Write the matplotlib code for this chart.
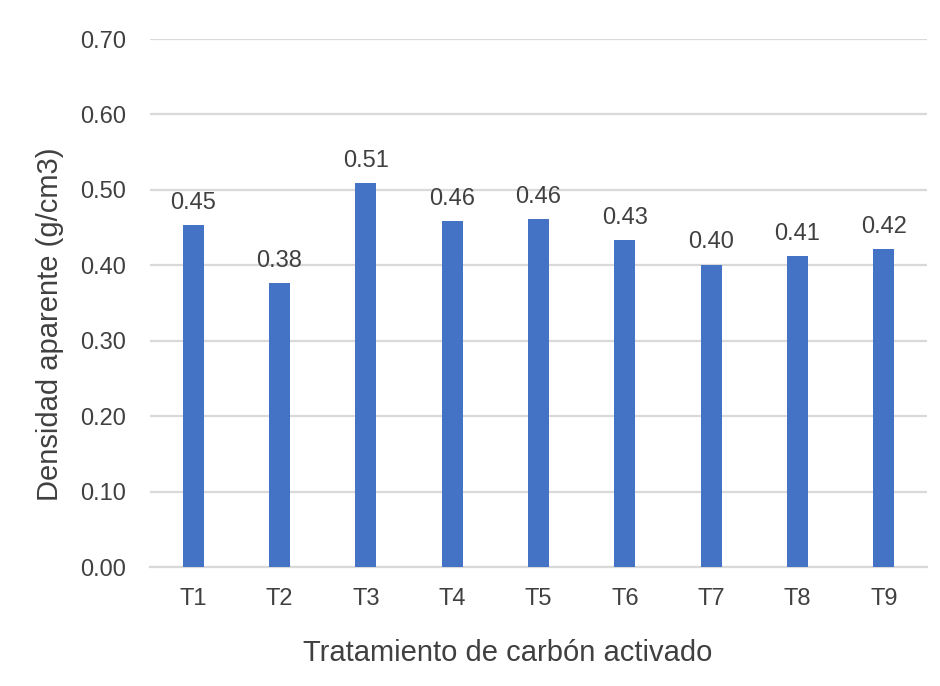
import matplotlib.pyplot as plt

# Apparent density per activated-carbon treatment
treatments = ["T1", "T2", "T3", "T4", "T5", "T6", "T7", "T8", "T9"]
density = [0.453, 0.377, 0.509, 0.459, 0.461, 0.434, 0.401, 0.412, 0.421]
y_ticks = [0.0, 0.1, 0.2, 0.3, 0.4, 0.5, 0.6, 0.7]

plt.rcParams["font.family"] = ["Liberation Sans", "DejaVu Sans"]
text_color = "#404040"

fig = plt.figure(figsize=(9.4, 6.86), dpi=100)
ax = fig.add_axes([150 / 940, 1 - 567 / 686, 777 / 940, 528 / 686])

x = range(len(treatments))
bars = ax.bar(x, density, width=0.245, color="#4472C4", zorder=3)

# value labels above each bar
for rect, val in zip(bars, density):
    ax.annotate(f"{val:.2f}", (rect.get_x() + rect.get_width() / 2, val),
                xytext=(0, 8), textcoords="offset points",
                ha="center", va="bottom", fontsize=17, color=text_color)

ax.set_xlim(-0.5, len(treatments) - 0.5)
ax.set_ylim(0, 0.7)
ax.set_yticks(y_ticks)
ax.set_yticklabels([f"{t:.2f}" for t in y_ticks])
ax.set_xticks(list(x))
ax.set_xticklabels(treatments)

ax.grid(axis="y", color="#D9D9D9", linewidth=1.6, zorder=0)
for side in ["top", "right", "left"]:
    ax.spines[side].set_visible(False)
ax.spines["bottom"].set_color("#D9D9D9")
ax.spines["bottom"].set_linewidth(1.6)
ax.tick_params(axis="both", length=0, labelsize=17, colors=text_color)
ax.tick_params(axis="y", pad=17)
ax.tick_params(axis="x", pad=15)

ax.set_xlabel("Tratamiento de carbón activado", fontsize=21, color=text_color)
ax.set_ylabel("Densidad aparente (g/cm3)", fontsize=21, color=text_color)
ax.xaxis.set_label_coords((508 - 150) / 777, -(639 - 567) / 528)
ax.yaxis.set_label_coords(-(150 - 64) / 777, (567 - 324) / 528)

fig.savefig("out.png", dpi=100)
